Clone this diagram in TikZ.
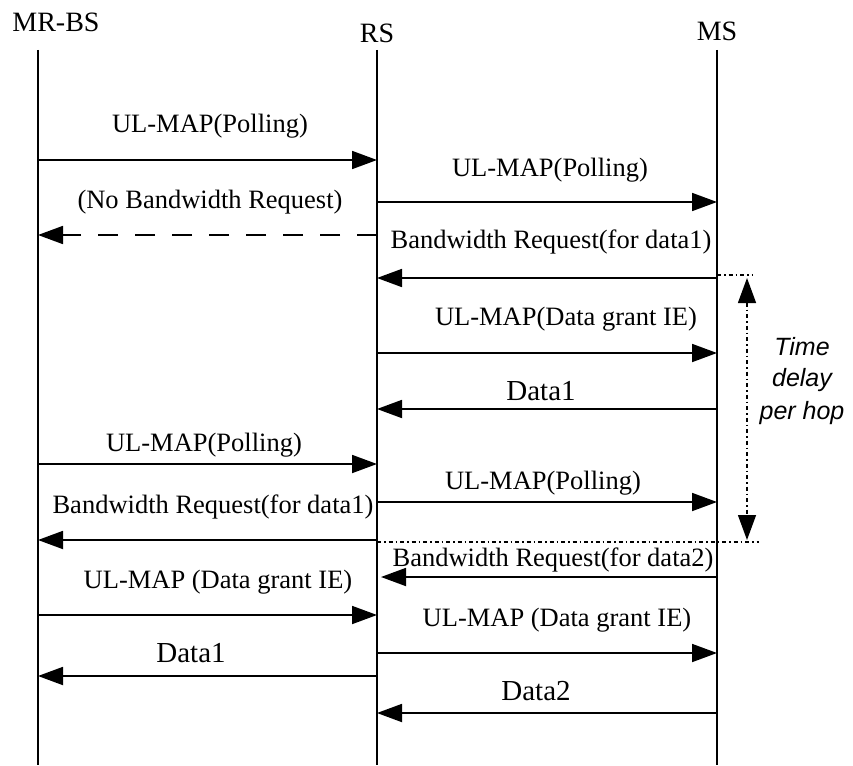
\documentclass[tikz,border=0pt]{standalone}
\usepackage{fontspec}
\setmainfont{Liberation Serif}
\newfontfamily\tdfont{Liberation Sans}
\usetikzlibrary{arrows.meta}
\tikzset{
  life/.style={line width=2pt},
  tipT/.tip={Triangle[length=25pt 0 0,width=18pt 0 0]},
  msg/.style={line width=1.8pt,-tipT},
  dmsg/.style={msg,dash pattern=on 20pt off 17pt},
  lbl/.style={font=\fontsize{26.5}{30}\selectfont,inner sep=0pt,text height=0.69em,text depth=0.22em},
  dlbl/.style={font=\fontsize{29}{32}\selectfont,inner sep=0pt,anchor=base},
  head/.style={font=\fontsize{28}{32}\selectfont,inner sep=0pt},
  dotl/.style={line width=1.4pt,dash pattern=on 4pt off 3pt on 1.5pt off 3pt},
  tdl/.style={font=\tdfont\itshape\fontsize{25}{33}\selectfont,inner sep=0pt,align=center}
}
\newcommand\msgline[5]{%
  \coordinate (#1s) at (#2,#4);
  \coordinate (#1e) at (#3,#4);
  \draw[#5] (#1s) -- (#1e);}
\begin{document}
\begin{tikzpicture}[x=1pt,y=-1pt]
\useasboundingbox (0,0) rectangle (853,765);
% headers
\node[head] (hbs) at (56,22) {MR-BS};
\node[head] (hrs) at (377,33) {RS};
\node[head] (hms) at (717,31) {MS};
% lifelines
\coordinate (bsT) at (38,50);  \coordinate (bsB) at (38,765);
\coordinate (rsT) at (377,50); \coordinate (rsB) at (377,765);
\coordinate (msT) at (717,50); \coordinate (msB) at (717,765);
\draw[life] (bsT) -- (bsB);
\draw[life] (rsT) -- (rsB);
\draw[life] (msT) -- (msB);
% messages
\msgline{m1}{38}{377}{160}{msg}
\node[lbl] (l1) at (210,130) {UL-MAP(Polling)};
\msgline{m2}{377}{717}{202}{msg}
\node[lbl] (l2) at (550,174) {UL-MAP(Polling)};
\msgline{m3}{377}{38}{235}{dmsg}
\node[lbl] (l3) at (210,206) {(No Bandwidth Request)};
\msgline{m4}{717}{377}{278}{msg}
\node[lbl] (l4) at (551,246) {Bandwidth Request(for data1)};
\msgline{m5}{377}{717}{353}{msg}
\node[lbl] (l5) at (566,323) {UL-MAP(Data grant IE)};
\msgline{m6}{717}{377}{409}{msg}
\node[dlbl] (l6) at (541,400) {Data1};
\msgline{m7}{38}{377}{464}{msg}
\node[lbl] (l7) at (204,449) {UL-MAP(Polling)};
\msgline{m8}{377}{717}{502}{msg}
\node[lbl] (l8) at (543,487) {UL-MAP(Polling)};
\msgline{m9}{377}{38}{540}{msg}
\node[lbl] (l9) at (213,511) {Bandwidth Request(for data1)};
\msgline{m10}{717}{381}{577}{msg}
\node[lbl] (l10) at (553,564) {Bandwidth Request(for data2)};
\msgline{m11}{38}{377}{615}{msg}
\node[lbl] (l11) at (218,586) {UL-MAP (Data grant IE)};
\msgline{m12}{377}{717}{653}{msg}
\node[lbl] (l12) at (557,624) {UL-MAP (Data grant IE)};
\msgline{m13}{377}{38}{676}{msg}
\node[dlbl] (l13) at (191,662) {Data1};
\msgline{m14}{717}{377}{713}{msg}
\node[dlbl] (l14) at (536,700) {Data2};
% time delay per hop
\coordinate (t1a) at (717,275); \coordinate (t1b) at (753,275);
\coordinate (t2a) at (377,542); \coordinate (t2b) at (759,542);
\draw[dotl] (t1a) -- (t1b);
\draw[dotl] (t2a) -- (t2b);
\coordinate (va) at (747,278); \coordinate (vb) at (747,540);
\draw[dotl,tipT-tipT] (va) -- (vb);
\node[tdl] (td1) at (802,347) {Time};
\node[tdl] (td2) at (802,380) {delay};
\node[tdl] (td3) at (802,413) {per hop};
\end{tikzpicture}
\end{document}
